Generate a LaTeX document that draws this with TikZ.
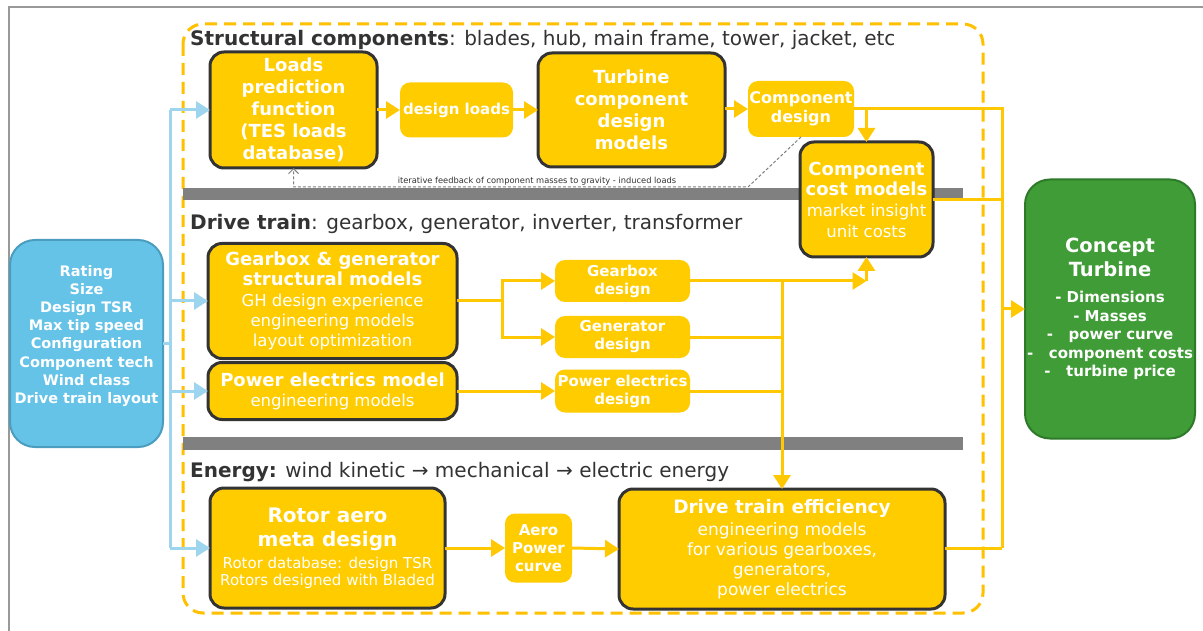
\documentclass[tikz,border=0pt]{standalone}
\usepackage{fontspec}
\setmainfont{DejaVu Sans}
\usetikzlibrary{arrows.meta}
\definecolor{yel}{HTML}{FFCC00}
\definecolor{yelline}{HTML}{FFC800}
\definecolor{dashy}{HTML}{FFC000}
\definecolor{darkb}{HTML}{333333}
\definecolor{bluef}{HTML}{66C3E8}
\definecolor{blued}{HTML}{4B9DC0}
\definecolor{bluel}{HTML}{9DD5EF}
\definecolor{greenf}{HTML}{3F9C36}
\definecolor{greend}{HTML}{2E7A2A}
\definecolor{barg}{HTML}{808080}
\definecolor{headc}{HTML}{333333}
\newcommand\fsz[2]{\fontsize{#1}{#2}\selectfont}
\begin{document}
\begin{tikzpicture}[x=1pt,y=-1pt,
  ybox/.style={rectangle, rounded corners=14pt, fill=yel, draw=darkb, line width=3pt, text=white, align=center, inner sep=0pt, outer sep=0pt},
  ysmall/.style={rectangle, rounded corners=10pt, fill=yel, text=white, align=center, inner sep=0pt, outer sep=0pt},
  yline/.style={draw=yelline, line width=3pt},
  yarrow/.style={yline, -{Triangle[length=14pt,width=17pt]}},
  bline/.style={draw=bluel, line width=3pt},
  barrow/.style={bline, -{Triangle[length=14pt,width=17pt]}},
  fbline/.style={draw=gray, line width=1pt, dash pattern=on 3pt off 2pt},
  head/.style={anchor=base west, text=headc, inner sep=0pt, font=\fsz{20}{24}},
  bar/.style={fill=barg}
]
\useasboundingbox (0,0) rectangle (1203,631);
\fill[white] (0,0) rectangle (1203,631);
% outer frame
\draw[gray!80, line width=1.5pt] (9,631) -- (9,7) -- (1203,7);
% dashed region
\draw[draw=dashy, line width=3pt, dash pattern=on 12pt off 7pt, rounded corners=20pt] (183,24) rectangle (983,613);
% bars
\fill[bar] (183,188) rectangle (963,200);
\fill[bar] (183,437) rectangle (963,450);
% headers
\node[head] (h1) at (190,46) {\textbf{Structural components}: blades, hub, main frame, tower, jacket, etc};
\node[head] (h2) at (190,230) {\textbf{Drive train}: gearbox, generator, inverter, transformer};
\node[head] (h3) at (190,477) {\textbf{Energy:} wind kinetic → mechanical → electric energy};

% structural row
\node[ybox, minimum width=167pt, minimum height=116pt, font=\fsz{18}{22}\bfseries] (loads) at (293.5,110) {Loads\\prediction\\function\\(TES loads\\database)};
\node[ysmall, minimum width=113pt, minimum height=55pt, font=\fsz{15}{18}\bfseries] (dl) at (456.5,110) {design loads};
\node[ybox, minimum width=187pt, minimum height=114pt, font=\fsz{18}{22}\bfseries] (tcd) at (631.5,110) {Turbine\\component\\design\\models};
\node[ysmall, minimum width=106pt, minimum height=56pt, font=\fsz{16}{19}\bfseries] (cd) at (801,109) {Component\\design};
\node[ybox, minimum width=133pt, minimum height=115pt, font=\fsz{16.5}{20.7}] (cost) at (866.5,199.5) {{\fsz{18}{21}\bfseries Component}\\{\fsz{18}{21}\bfseries cost models}\\market insight\\unit costs};

% drive train
\node[ybox, minimum width=249pt, minimum height=115pt, font=\fsz{16.5}{20.2}] (ggs) at (332.5,301) {{\fsz{18}{21}\bfseries Gearbox \& generator}\\{\fsz{18}{21}\bfseries structural models}\\GH design experience\\engineering models\\layout optimization};
\node[ybox, minimum width=249pt, minimum height=57pt, font=\fsz{16.5}{20}] (pem) at (332.5,391) {{\fsz{18}{21}\bfseries Power electrics model}\\engineering models};
\node[ysmall, minimum width=135pt, minimum height=42pt, font=\fsz{15}{18}\bfseries] (gbd) at (622.5,281) {Gearbox\\design};
\node[ysmall, minimum width=135pt, minimum height=42pt, font=\fsz{15}{18}\bfseries] (gnd) at (622.5,337) {Generator\\design};
\node[ysmall, minimum width=135pt, minimum height=43pt, font=\fsz{15}{18}\bfseries] (ped) at (622.5,391) {Power electrics\\design};

% energy
\node[ybox, minimum width=235pt, minimum height=120pt, font=\fsz{15}{17}] (rot) at (327.5,548) {{\fsz{20}{23}\bfseries Rotor aero}\\[7pt]{\fsz{20}{23}\bfseries meta design}\\[5pt]Rotor database: design TSR\\Rotors designed with Bladed};
\node[ysmall, minimum width=67pt, minimum height=69pt, font=\fsz{15}{18}\bfseries] (aero) at (538.5,548) {Aero\\Power\\curve};
\node[ybox, minimum width=326pt, minimum height=120pt, font=\fsz{17}{20}] (dte) at (782,549) {{\fsz{18.5}{21}\bfseries Drive train efficiency}\\[2pt]engineering models\\for various gearboxes,\\generators,\\power electrics};

% input box
\node[rectangle, rounded corners=25pt, fill=bluef, draw=blued, line width=2pt, inner sep=0pt, outer sep=0pt, minimum width=153pt, minimum height=207pt] (inp) at (86.5,343.5) {};
\node[text=white, align=center, inner sep=0pt, font=\fsz{14.5}{18.1}\bfseries] (inptxt) at (86.5,336) {Rating\\Size\\Design TSR\\Max tip speed\\Configuration\\Component tech\\Wind class\\Drive train layout};

% output box
\node[rectangle, rounded corners=25pt, fill=greenf, draw=greend, line width=2pt, text=white, align=center, inner sep=0pt, outer sep=0pt, minimum width=170pt, minimum height=259pt, font=\fsz{15}{18.5}\bfseries] (ct) at (1110,309) {{\fsz{19.5}{23}Concept}\\[4.5pt]{\fsz{19.5}{23}Turbine}\\[7.5pt]- Dimensions\\- Masses\\-~~~power curve\\-~~~component costs\\-~~~turbine price};

% blue connectors
\coordinate (Bt) at (170,110);
\coordinate (Bb) at (170,548);
\draw[bline] (Bt) -- (Bb);
\draw[bline] (inp.east) -- (inp.east -| Bt);
\draw[barrow] (Bt) -- (loads.west);
\draw[barrow] (ggs.west -| Bt) -- (ggs.west);
\draw[barrow] (pem.west -| Bt) -- (pem.west);
\draw[barrow] (Bb) -- (rot.west);

% structural connectors
\draw[yarrow] (loads.east) -- (dl.west);
\draw[yarrow] (dl.east) -- (tcd.west);
\draw[yarrow] (tcd.east |- cd.west) -- (cd.west);
\coordinate (R1) at (1002,109);
\coordinate (Rm) at (1002,309);
\coordinate (R2) at (1002,548);
\draw[yline] (cd.east) -- (R1) -- (R2);
\draw[yarrow] (cost.north |- cd.east) -- (cost.north);
\draw[yline] (cost.east) -- (cost.east -| R1);
\draw[yarrow] (Rm) -- (ct.west);

% drive train connectors
\draw[yarrow] (ggs.east) -- ++(45,0) |- (gbd.west);
\draw[yarrow] (ggs.east) -- ++(45,0) |- (gnd.west);
\draw[yarrow] (pem.east) -- (ped.west);
\coordinate (C1) at (cost.south |- gbd.east);
\draw[yarrow] (gbd.east) -- (C1);
\draw[yarrow] (C1) -- (cost.south);
\draw[yline] (gnd.east) -- (gnd.east -| dte.north);
\draw[yline] (ped.east) -- (ped.east -| dte.north);
\draw[yarrow] (gbd.east -| dte.north) -- (dte.north);

% energy connectors
\draw[yarrow] (rot.east) -- (aero.west);
\draw[yarrow] (aero.east) -- (dte.west);
\draw[yline] (dte.east |- R2) -- (R2);

% feedback
\coordinate (F1) at (748,187);
\draw[fbline, -{Straight Barb[length=5pt,width=10pt]}] (cd.south) -- (F1) -| (loads.south);
\node[text=darkb, font=\fsz{8.3}{9}, inner sep=0pt] (fbt) at (537,181) {iterative feedback of component masses to gravity - induced loads};
\end{tikzpicture}
\end{document}
